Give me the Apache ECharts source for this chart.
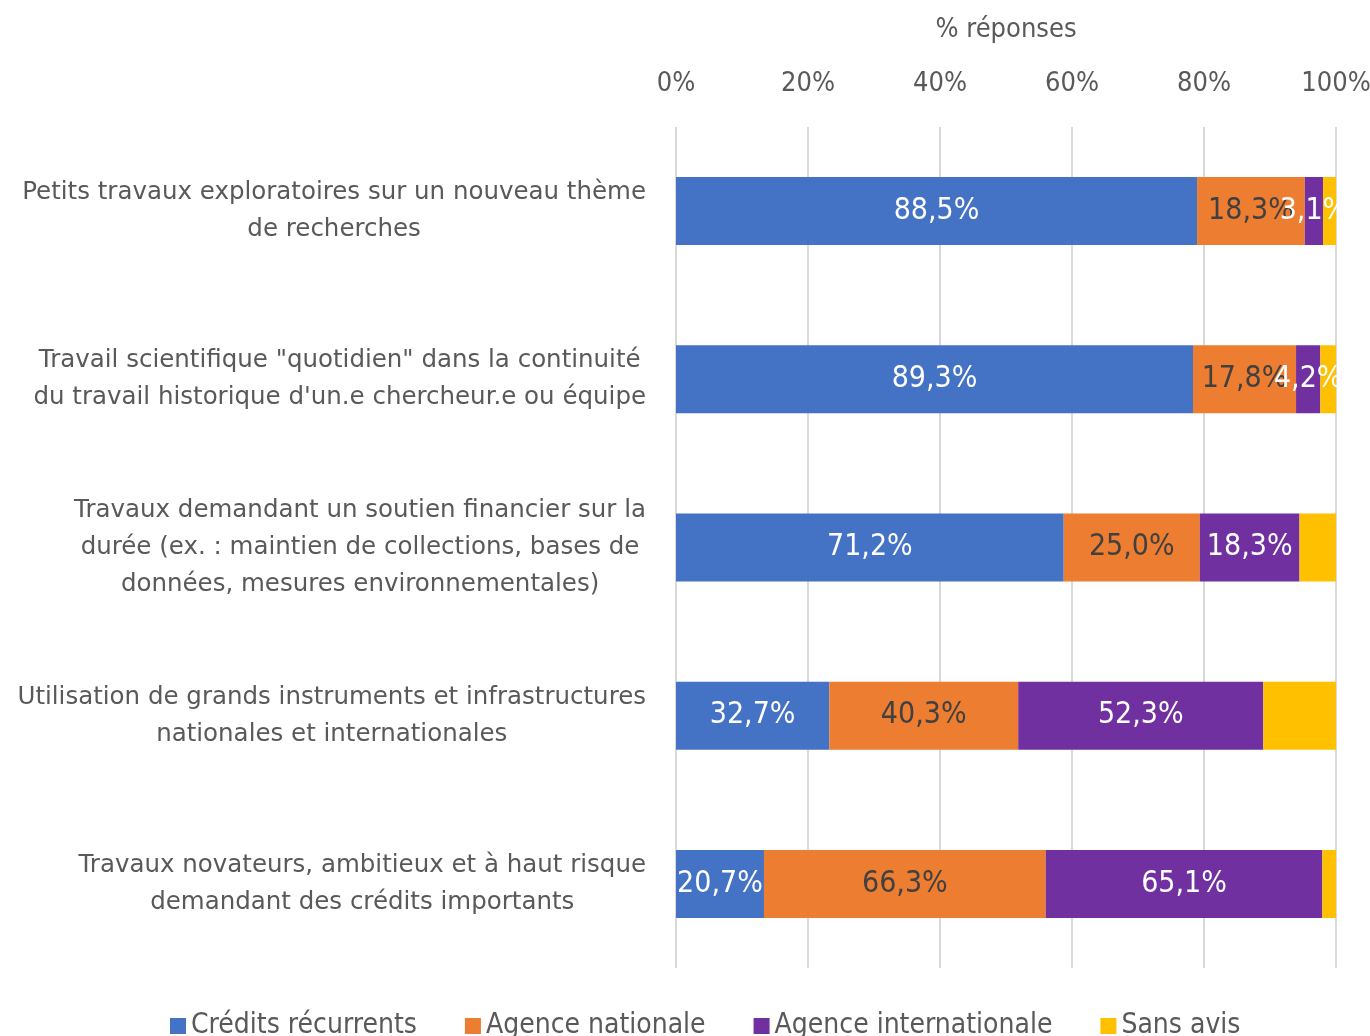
<!DOCTYPE html>
<html>
<head>
<meta charset="utf-8">
<script src="https://cdn.jsdelivr.net/npm/echarts@6/dist/echarts.min.js"></script>
<style>
  html, body { margin: 0; padding: 0; background: #fff; }
  #chart { width: 1370px; height: 1036px; }
</style>
</head>
<body>
<div id="chart"></div>
<script>
const categories = [
  "Petits travaux exploratoires sur un nouveau thème\nde recherches",
  "Travail scientifique \"quotidien\" dans la continuité\ndu travail historique d'un.e chercheur.e ou équipe",
  "Travaux demandant un soutien financier sur la\ndurée (ex. : maintien de collections, bases de\ndonnées, mesures environnementales)",
  "Utilisation de grands instruments et infrastructures\nnationales et internationales",
  "Travaux novateurs, ambitieux et à haut risque\ndemandant des crédits importants"
];
const seriesNames = ["Crédits récurrents", "Agence nationale", "Agence internationale", "Sans avis"];
const credits = [88.5, 89.3, 71.2, 32.7, 20.7];
const agenceNat = [18.3, 17.8, 25.0, 40.3, 66.3];
const agenceInt = [3.1, 4.2, 18.3, 52.3, 65.1];
const sansAvis = [2.2, 2.7, 6.7, 15.5, 3.2];
const xTicks = [0, 20, 40, 60, 80, 100];

const raw = [credits, agenceNat, agenceInt, sansAvis];
const colors = ["#4472C4", "#ED7D31", "#7030A0", "#FFC000"];
const labelColors = ["#ffffff", "#404040", "#ffffff", null];
const totals = categories.map((c, i) => raw.reduce((s, arr) => s + arr[i], 0));

const narrow = "'Liberation Sans Narrow', 'DejaVu Sans Condensed', sans-serif";
const catFont = "'DejaVu Sans', sans-serif";

const fmt = v => v.toFixed(1).replace(".", ",") + "%";

const chart = echarts.init(document.getElementById("chart"));

const series = seriesNames.map((name, k) => ({
  name: name,
  type: "bar",
  stack: "total",
  barWidth: 68,
  itemStyle: { color: colors[k] },
  label: {
    show: labelColors[k] !== null,
    position: "inside",
    color: labelColors[k] || "#fff",
    fontFamily: narrow,
    fontSize: 30,
    formatter: p => fmt(raw[k][p.dataIndex])
  },
  data: raw[k].map((v, i) => v / totals[i] * 100)
}));

chart.setOption({
  backgroundColor: "#ffffff",
  animation: false,
  grid: { left: 676, right: 34, top: 127, bottom: 68, outerBoundsMode: "none" },
  xAxis: {
    type: "value",
    position: "top",
    min: xTicks[0],
    max: xTicks[xTicks.length - 1],
    interval: 20,
    name: "% réponses",
    nameLocation: "middle",
    nameGap: 84,
    nameTextStyle: { color: "#595959", fontSize: 27, fontFamily: narrow },
    axisLine: { show: false },
    axisTick: { show: false },
    axisLabel: {
      formatter: "{value}%",
      color: "#595959",
      fontSize: 27,
      fontFamily: narrow,
      margin: 30
    },
    splitLine: { show: true, lineStyle: { color: "#D9D9D9", width: 2 } }
  },
  yAxis: {
    type: "category",
    inverse: true,
    data: categories,
    axisLine: { show: false },
    axisTick: { show: false },
    axisLabel: {
      margin: 30,
      align: "right",
      color: "#595959",
      fontFamily: catFont,
      fontSize: 24.5,
      lineHeight: 37,
      formatter: v => v.split("\n").map(l => "{c|" + l + "}").join("\n"),
      rich: {
        c: { align: "center", color: "#595959", fontFamily: catFont, fontSize: 24.5, lineHeight: 37 }
      }
    }
  },
  legend: {
    data: seriesNames,
    left: 165,
    top: 1007,
    icon: "rect",
    itemWidth: 16,
    itemHeight: 16,
    itemGap: 48,
    textStyle: { color: "#595959", fontSize: 28, fontFamily: narrow }
  },
  series: series
});
</script>
</body>
</html>
